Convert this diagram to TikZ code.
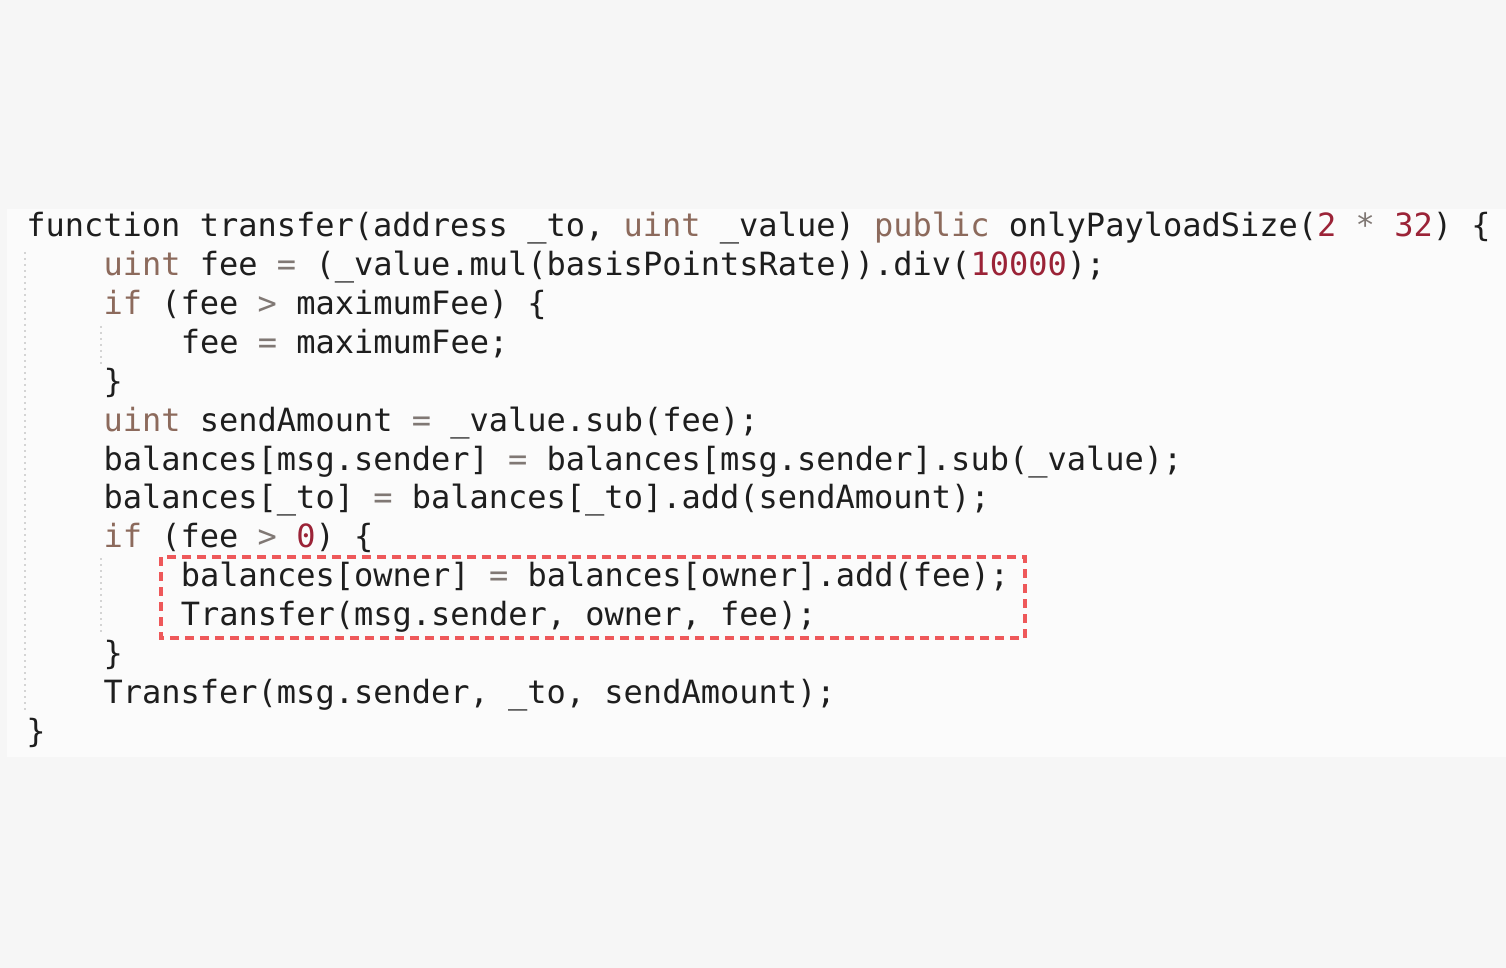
\documentclass[tikz,border=0pt]{standalone}
\usepackage{fontspec}
\newfontfamily\codefont{DejaVu Sans Mono}

\begin{document}
\begin{tikzpicture}[x=0.5pt, y=-0.5pt,
    codeline/.style={anchor=base west, inner sep=0pt, text=codetext, font=\codefont\fontsize{16}{19}\selectfont},
    guide/.style={draw=guidecolor, line width=1pt, dotted},
    hilite/.style={draw=boxred, line width=1.75pt, dash pattern=on 4.5pt off 3pt}]
            \definecolor{bgcolor}{RGB}{246, 246, 246}
            \definecolor{panelcolor}{RGB}{251, 251, 251}
            \definecolor{codetext}{RGB}{30, 30, 30}
            \definecolor{kwcolor}{RGB}{140, 106, 92}
            \definecolor{opcolor}{RGB}{128, 120, 116}
            \definecolor{numcolor}{RGB}{155, 35, 55}
            \definecolor{guidecolor}{RGB}{212, 212, 212}
            \definecolor{boxred}{RGB}{238, 88, 90}
            \def\kw#1{\textcolor{kwcolor}{#1}}
            \def\op#1{\textcolor{opcolor}{#1}}
            \def\num#1{\textcolor{numcolor}{#1}}
            \def\codeleft{26}
            \def\indentstep{19.3}
            \def\firstrow{237}
            \def\rowstep{38.85}
            \useasboundingbox (0, 0) rectangle (1506, 968);
            \fill[bgcolor] (0, 0) rectangle (1506, 968);
            \fill[panelcolor] (7, 209) rectangle (1506, 757);
            \draw[guide] (25, 252) -- (25, 712);
            \draw[guide] (101, 326) -- (101, 366);
            \draw[guide] (101, 558) -- (101, 634);
            \node[codeline] (L1) at ({\codeleft}, {\firstrow}) {function transfer(address \_to, \kw{uint} \_value) \kw{public} onlyPayloadSize(\num{2} \op{*} \num{32}) \{};
            \node[codeline] (L2) at ({\codeleft+4*\indentstep}, {\firstrow+1*\rowstep}) {\kw{uint} fee \op{=} (\_value.mul(basisPointsRate)).div(\num{10000});};
            \node[codeline] (L3) at ({\codeleft+4*\indentstep}, {\firstrow+2*\rowstep}) {\kw{if} (fee \op{>} maximumFee) \{};
            \node[codeline] (L4) at ({\codeleft+8*\indentstep}, {\firstrow+3*\rowstep}) {fee \op{=} maximumFee;};
            \node[codeline] (L5) at ({\codeleft+4*\indentstep}, {\firstrow+4*\rowstep}) {\}};
            \node[codeline] (L6) at ({\codeleft+4*\indentstep}, {\firstrow+5*\rowstep}) {\kw{uint} sendAmount \op{=} \_value.sub(fee);};
            \node[codeline] (L7) at ({\codeleft+4*\indentstep}, {\firstrow+6*\rowstep}) {balances[msg.sender] \op{=} balances[msg.sender].sub(\_value);};
            \node[codeline] (L8) at ({\codeleft+4*\indentstep}, {\firstrow+7*\rowstep}) {balances[\_to] \op{=} balances[\_to].add(sendAmount);};
            \node[codeline] (L9) at ({\codeleft+4*\indentstep}, {\firstrow+8*\rowstep}) {\kw{if} (fee \op{>} \num{0}) \{};
            \node[codeline] (L10) at ({\codeleft+8*\indentstep}, {\firstrow+9*\rowstep}) {balances[owner] \op{=} balances[owner].add(fee);};
            \node[codeline] (L11) at ({\codeleft+8*\indentstep}, {\firstrow+10*\rowstep}) {Transfer(msg.sender, owner, fee);};
            \node[codeline] (L12) at ({\codeleft+4*\indentstep}, {\firstrow+11*\rowstep}) {\}};
            \node[codeline] (L13) at ({\codeleft+4*\indentstep}, {\firstrow+12*\rowstep}) {Transfer(msg.sender, \_to, sendAmount);};
            \node[codeline] (L14) at ({\codeleft}, {\firstrow+13*\rowstep}) {\}};
            \draw[hilite] (161, 557) rectangle (1025, 638);
        \end{tikzpicture}
\end{document}
